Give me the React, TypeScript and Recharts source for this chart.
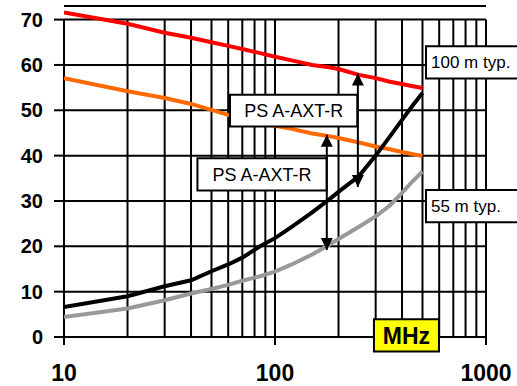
import React from 'react';
import {
  LineChart,
  Line,
  XAxis,
  YAxis,
  CartesianGrid,
  ReferenceLine,
  ReferenceArea,
  ReferenceDot,
} from 'recharts';

const freqs = [10, 20, 30, 40, 50, 60, 70, 85, 100, 120, 150, 180, 200, 250, 300, 350, 400, 450, 500];
const red100 = [71.6, 69.1, 67.1, 66.0, 65.0, 64.2, 63.5, 62.6, 61.8, 61.0, 60.0, 59.5, 59.1, 57.8, 57.1, 56.3, 55.8, 55.3, 54.9];
const orange55 = [57.1, 54.2, 52.7, 51.4, 50.1, 49.0, 48.2, 47.2, 46.6, 45.9, 44.9, 44.3, 43.9, 42.9, 42.0, 41.4, 40.8, 40.3, 39.9];
const black100 = [6.6, 9.0, 11.2, 12.5, 14.5, 16.0, 17.5, 20.0, 21.8, 24.3, 27.5, 30.3, 32.0, 35.5, 40.0, 44.2, 47.9, 51.1, 53.8];
const gray55 = [4.4, 6.3, 8.1, 9.6, 10.6, 11.5, 12.4, 13.4, 14.4, 16.0, 18.2, 20.3, 21.6, 24.3, 26.6, 29.0, 31.8, 34.4, 36.5];

const xTicks = [10, 100, 1000];
const yTicks = [0, 10, 20, 30, 40, 50, 60, 70];
const xGrid = [10, 20, 30, 40, 50, 60, 70, 80, 90, 100, 200, 300, 400, 500, 600, 700, 800, 900, 1000];

const boxLabel = 'PS A-AXT-R';
const label100 = '100 m typ.';
const label55 = '55 m typ.';
const unitLabel = 'MHz';

const data = freqs.map((f, i) => ({
  f,
  red: red100[i],
  orange: orange55[i],
  black: black100[i],
  gray: gray55[i],
}));

const FONT = '"Liberation Sans", Arial, Helvetica, sans-serif';

const upHead = (p: any) => (
  <polygon
    points={`${p.cx},${p.cy} ${p.cx - 6},${p.cy + 12} ${p.cx + 6},${p.cy + 12}`}
    fill="#000"
  />
);
const downHead = (p: any) => (
  <polygon
    points={`${p.cx},${p.cy} ${p.cx - 6},${p.cy - 12} ${p.cx + 6},${p.cy - 12}`}
    fill="#000"
  />
);

export default function App() {
  return (
    <div style={{ width: 517, height: 386, background: '#fff' }}>
      <style>{'body{margin:0;}'}</style>
      <LineChart
        width={517}
        height={386}
        data={data}
        margin={{ top: 6, right: 31, bottom: 0, left: 0 }}
        style={{ fontFamily: FONT }}
      >
        <CartesianGrid horizontal vertical={false} stroke="#000" strokeWidth={2} strokeOpacity={1} />
        {xGrid.map((x) => (
          <ReferenceLine
            key={'g' + x}
            segment={[{ x, y: 0 }, { x, y: 70 }]}
            stroke="#000"
            strokeWidth={2}
            ifOverflow="visible"
            zIndex={-90}
          />
        ))}
        <XAxis
          dataKey="f"
          type="number"
          scale="log"
          domain={[10, 1000]}
          ticks={xTicks}
          allowDataOverflow
          height={49}
          axisLine={false}
          tickSize={8}
          tickMargin={20}
          tickLine={{ stroke: '#000', strokeWidth: 2 }}
          tick={{ fill: '#000', fontSize: 23, fontWeight: 'bold', fontFamily: FONT }}
          interval={0}
          zIndex={-80}
        />
        <YAxis
          type="number"
          domain={[0, 73]}
          ticks={yTicks}
          width={64}
          axisLine={false}
          tickSize={10}
          tickMargin={11}
          tickLine={{ stroke: '#000', strokeWidth: 2 }}
          tick={{ fill: '#000', fontSize: 20, fontWeight: 'bold', fontFamily: FONT }}
          interval={0}
          zIndex={-80}
        />
        <Line dataKey="red" stroke="#ff0000" strokeWidth={4} dot={false} activeDot={false} isAnimationActive={false} zIndex={400} />
        <Line dataKey="orange" stroke="#ff6a00" strokeWidth={4} dot={false} activeDot={false} isAnimationActive={false} zIndex={400} />
        <Line dataKey="black" stroke="#000000" strokeWidth={4} dot={false} activeDot={false} isAnimationActive={false} zIndex={400} />
        <Line dataKey="gray" stroke="#999999" strokeWidth={4} dot={false} activeDot={false} isAnimationActive={false} zIndex={400} />

        <ReferenceArea
          x1={61.2}
          x2={245.5}
          y1={46.4}
          y2={53.4}
          fill="#fff"
          fillOpacity={1}
          stroke="#000"
          strokeWidth={2}
          ifOverflow="visible"
          zIndex={450}
          label={{ value: boxLabel, position: 'center', fontSize: 18, fill: '#000', fontFamily: FONT }}
        />
        <ReferenceArea
          x1={42.9}
          x2={175.8}
          y1={32.3}
          y2={39.4}
          fill="#fff"
          fillOpacity={1}
          stroke="#000"
          strokeWidth={2}
          ifOverflow="visible"
          zIndex={450}
          label={{ value: boxLabel, position: 'center', fontSize: 18, fill: '#000', fontFamily: FONT }}
        />
        <ReferenceArea
          x1={519.5}
          x2={1700}
          y1={57.0}
          y2={64.1}
          fill="#fff"
          fillOpacity={1}
          stroke="#000"
          strokeWidth={2}
          ifOverflow="visible"
          zIndex={450}
          label={{ value: label100, position: 'insideLeft', offset: 5, fontSize: 17, fill: '#000', fontFamily: FONT }}
        />
        <ReferenceArea
          x1={519.5}
          x2={1700}
          y1={25.3}
          y2={32.4}
          fill="#fff"
          fillOpacity={1}
          stroke="#000"
          strokeWidth={2}
          ifOverflow="visible"
          zIndex={450}
          label={{ value: label55, position: 'insideLeft', offset: 5, fontSize: 17, fill: '#000', fontFamily: FONT }}
        />
        <ReferenceArea
          x1={294.4}
          x2={598.6}
          y1={-3.2}
          y2={3.9}
          fill="#ffff00"
          fillOpacity={1}
          stroke="#000"
          strokeWidth={2}
          ifOverflow="visible"
          zIndex={450}
          label={{ value: unitLabel, position: 'center', fontSize: 23, fontWeight: 'bold', fill: '#000', fontFamily: FONT }}
        />

        <ReferenceLine segment={[{ x: 247, y: 33.1 }, { x: 247, y: 58.1 }]} stroke="#000" strokeWidth={2} ifOverflow="visible" zIndex={600} />
        <ReferenceDot x={247} y={58.1} r={6} shape={upHead} ifOverflow="visible" zIndex={600} />
        <ReferenceDot x={247} y={33.1} r={6} shape={downHead} ifOverflow="visible" zIndex={600} />
        <ReferenceLine segment={[{ x: 176, y: 19.2 }, { x: 176, y: 44.6 }]} stroke="#000" strokeWidth={2} ifOverflow="visible" zIndex={600} />
        <ReferenceDot x={176} y={44.6} r={6} shape={upHead} ifOverflow="visible" zIndex={600} />
        <ReferenceDot x={176} y={19.2} r={6} shape={downHead} ifOverflow="visible" zIndex={600} />
      </LineChart>
    </div>
  );
}
